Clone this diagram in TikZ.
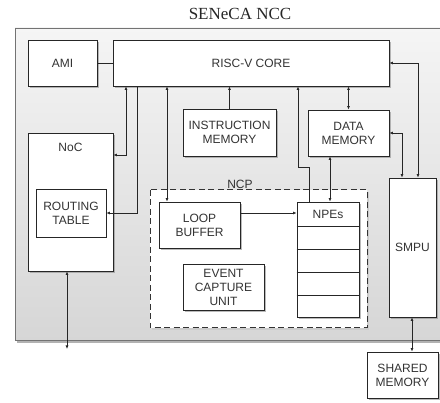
\documentclass[tikz,border=0pt]{standalone}
\usepackage{fontspec}
\setmainfont{Liberation Sans}
\newfontfamily\titlefont{Liberation Serif}
\usetikzlibrary{shadows,arrows.meta}
\begin{document}
\begin{tikzpicture}[x=1pt,y=-1pt,
  box/.style={draw=black!85, line width=0.9pt, fill=white, align=center, inner sep=0pt,
    font=\fontsize{12}{14}\selectfont, text=black!80,
    drop shadow={shadow xshift=2pt, shadow yshift=-2pt, fill=black!45, opacity=0.6}},
  plainbox/.style={draw=black!85, line width=0.9pt, fill=white, align=center, inner sep=0pt,
    font=\fontsize{12}{14}\selectfont, text=black!80},
  lbl/.style={font=\fontsize{12}{14}\selectfont, text=black!80, inner sep=0pt},
  conn/.style={line width=0.8pt, draw=black!85},
  dbl/.style={conn, {Latex[length=3.5pt,width=3pt]}-{Latex[length=3.5pt,width=3pt]}},
  one/.style={conn, -{Latex[length=3.5pt,width=3pt]}}
]
\useasboundingbox (0,0) rectangle (440,403);
% outer box
\fill[black!30] (17,31) rectangle (447,343);
\shade[top color=black!4, bottom color=black!16, draw=black!55, line width=0.8pt] (15,28) rectangle (445,340);
\node[font=\titlefont\fontsize{17}{20}\selectfont, text=black!85] (title) at (240,14) {SENeCA NCC};

% NCP dashed region
\fill[black!20] (152,192) rectangle (369,330);
\draw[fill=white, draw=black!80, line width=1pt, dash pattern=on 6pt off 3.5pt] (150,190) rectangle (367,328);
\node[lbl] (ncplabel) at (240,184) {NCP};

\node[box, minimum width=69pt, minimum height=46pt] (ami) at (62.5,63) {AMI};
\node[box, minimum width=276pt, minimum height=46pt] (risc) at (251,63) {RISC-V CORE};
\node[box, minimum width=85pt, minimum height=138pt] (noc) at (70.5,202) {};
\node[lbl] (noclbl) at (70.5,147) {NoC};
\node[plainbox, minimum width=70pt, minimum height=48pt] (rt) at (71,213) {ROUTING\\TABLE};
\node[box, minimum width=93pt, minimum height=47pt] (im) at (229.5,132.5) {INSTRUCTION\\MEMORY};
\node[box, minimum width=81pt, minimum height=46pt] (dm) at (348.5,133) {DATA\\MEMORY};
\node[box, minimum width=47pt, minimum height=139pt] (smpu) at (412.5,247.5) {SMPU};
\node[box, minimum width=81pt, minimum height=46pt] (lb) at (199.5,225) {LOOP\\BUFFER};
\node[box, minimum width=81pt, minimum height=46pt] (ecu) at (223.5,287) {EVENT\\CAPTURE\\UNIT};
\node[box, minimum width=62pt, minimum height=115pt] (npe) at (328,259.5) {};
\node[lbl] (npelbl) at (328,214) {NPEs};
\foreach \yy in {226,249,272,295}
  \draw[line width=0.9pt, draw=black!85] (npe.west |- 0,\yy) -- (npe.east |- 0,\yy);
\node[box, minimum width=71pt, minimum height=46pt] (sm) at (402.5,375) {SHARED\\MEMORY};

\coordinate (nocend) at (67,349);

% connectors
\draw[conn] (ami.east) -- (risc.west);
\draw[dbl] (risc.south -| 126,0) |- (noc.east |- 0,155);
\draw[one] (risc.south -| 137,0) |- (rt.east);
\draw[dbl] (risc.south -| 167,0) -- (lb.north -| 167,0);
\draw[one] (im.north) -- (risc.south -| im.north);
\draw[one] (npe.north -| 309,0) |- (298,167) -- (risc.south -| 298,0);
\draw[dbl] (risc.south -| dm.north) -- (dm.north);
\draw[dbl] (dm.south -| 330,0) -- (npe.north -| 330,0);
\draw[dbl] (risc.east) -| (smpu.north -| 418,0);
\draw[dbl] (dm.east) -| (smpu.north -| 402,0);
\draw[one] (lb.east |- 0,213) -- (npe.west |- 0,213);
\draw[dbl] (noc.south -| nocend) -- (nocend);
\draw[dbl] (smpu.south -| 412,0) -- (sm.north -| 412,0);
\end{tikzpicture}
\end{document}
